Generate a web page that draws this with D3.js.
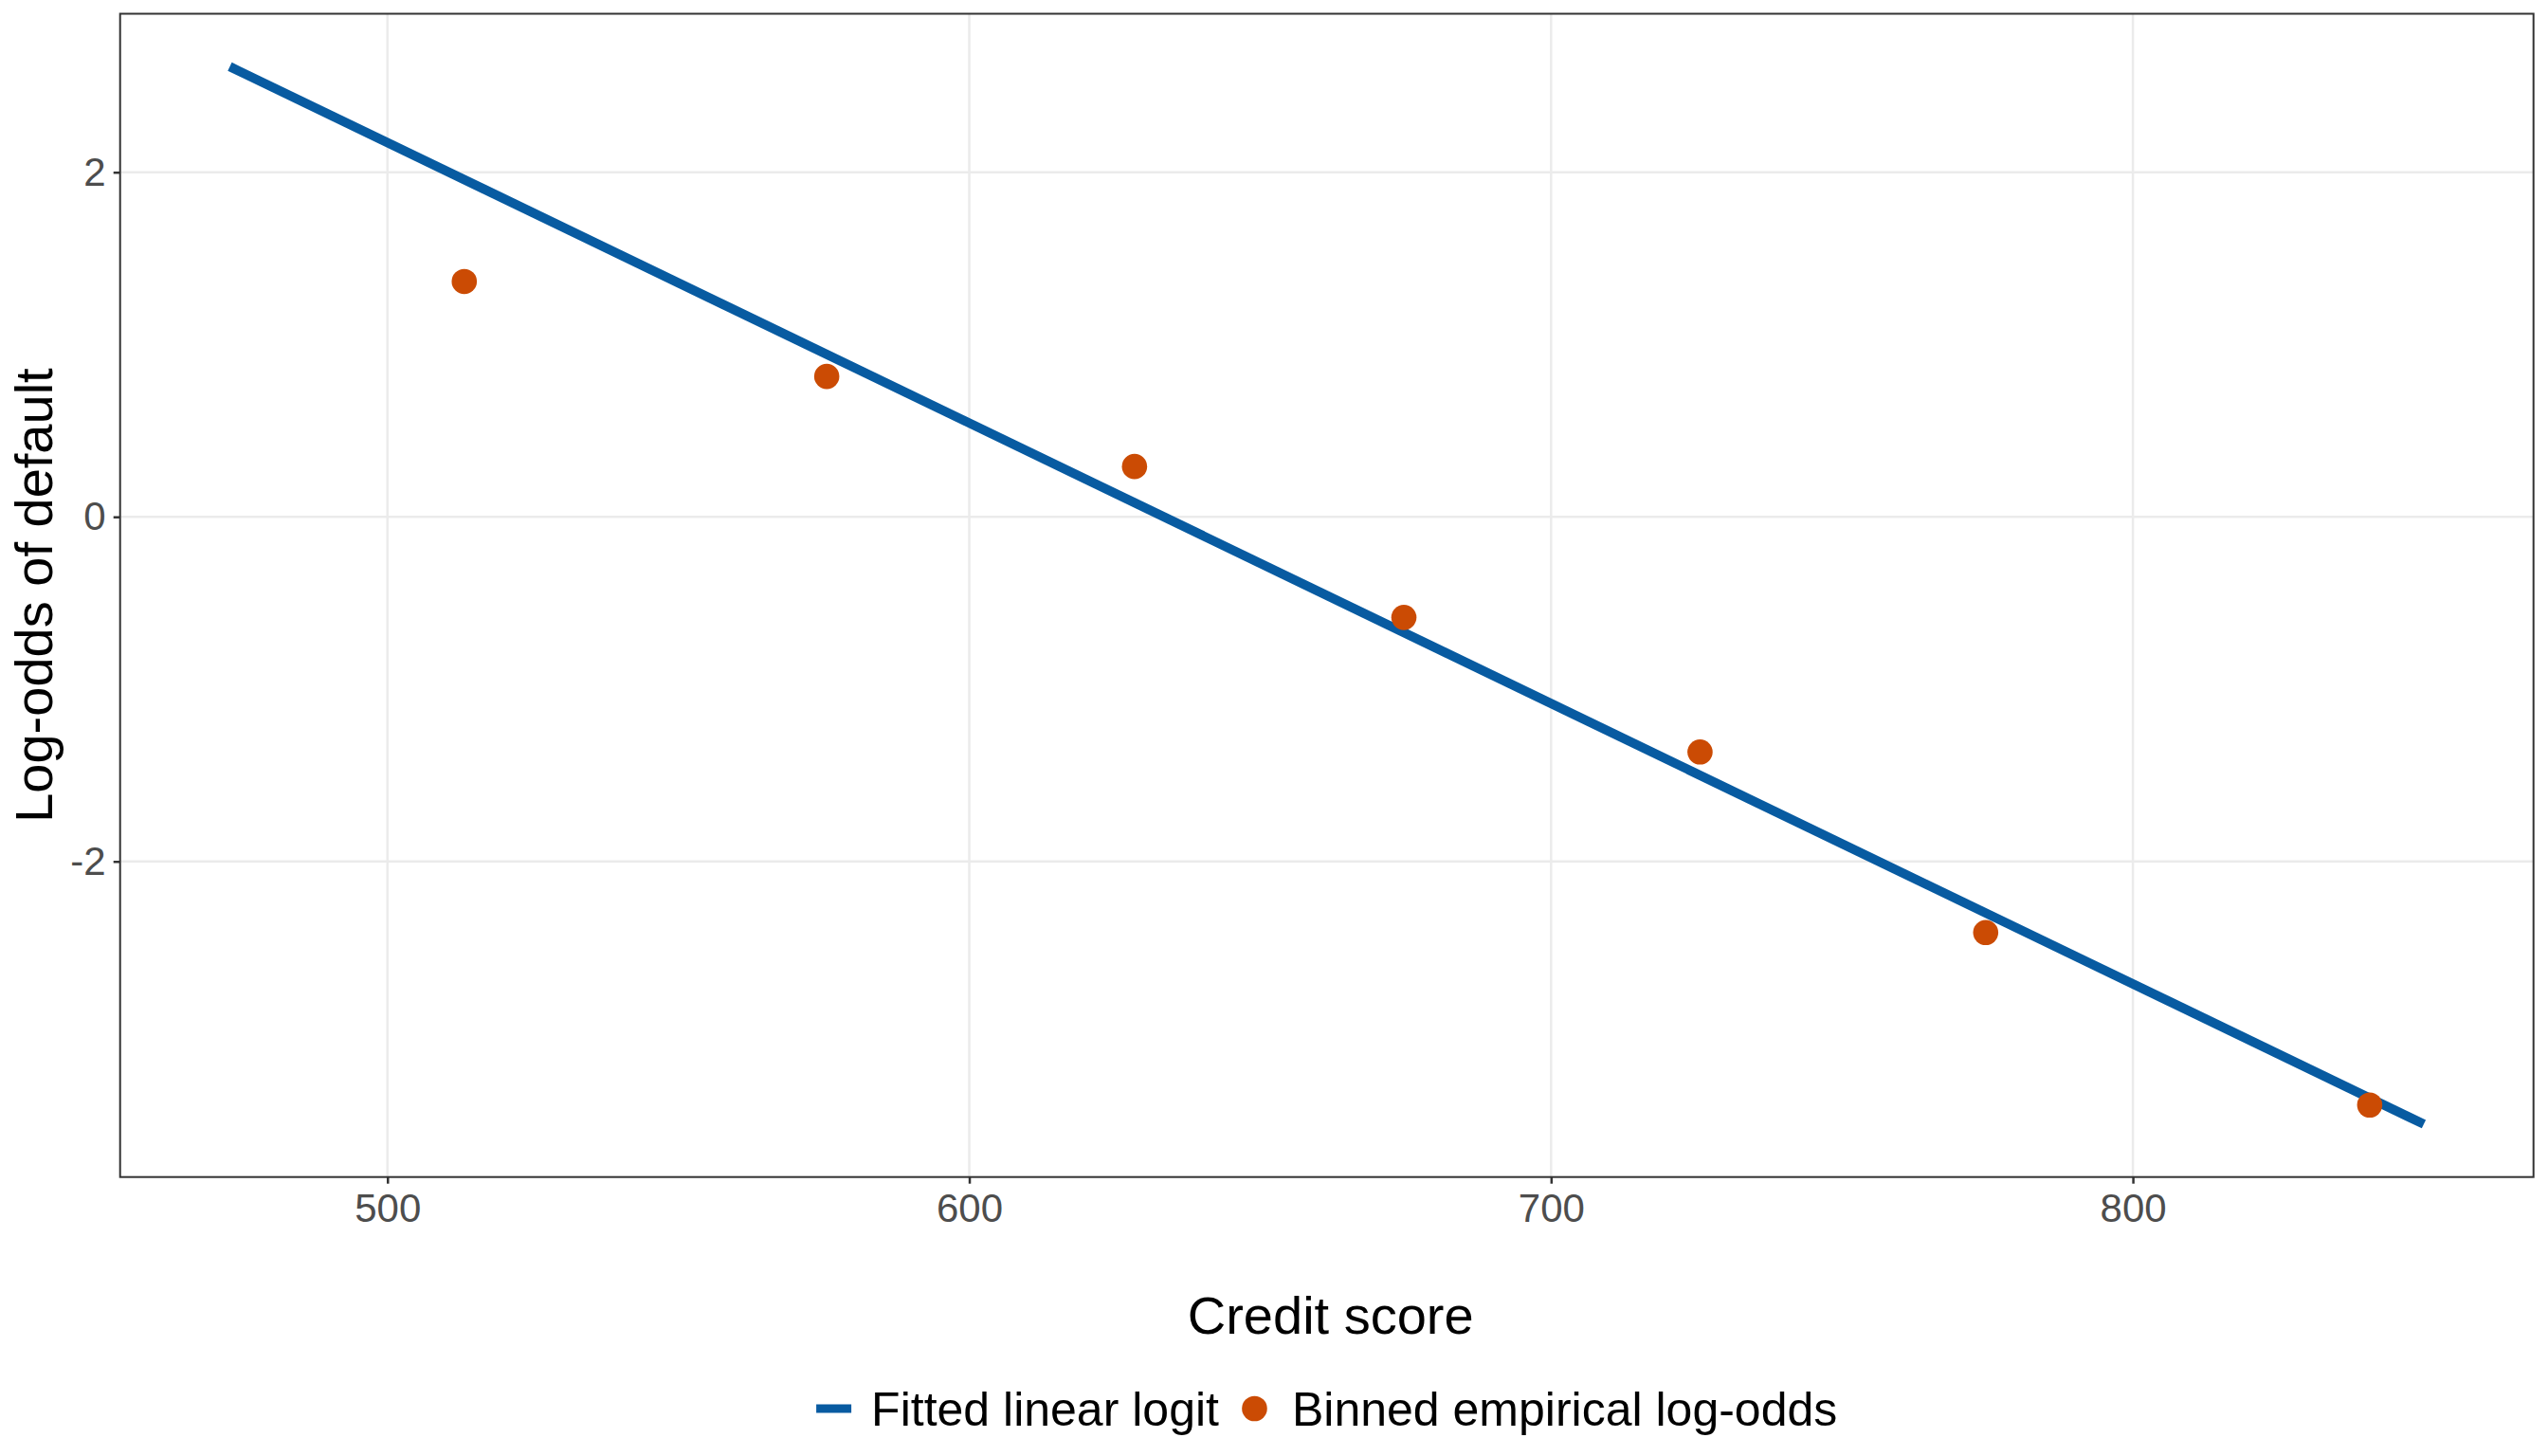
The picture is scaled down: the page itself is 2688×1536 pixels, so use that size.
<!DOCTYPE html>
<html>
<head>
<meta charset="utf-8">
<script src="https://cdn.jsdelivr.net/npm/d3@7"></script>
<style>
  html, body { margin: 0; padding: 0; background: #fff; }
  svg { display: block; font-family: 'Liberation Sans', Arial, sans-serif; }
</style>
</head>
<body>
<div id="chart"></div>
<script>
// binned empirical log-odds
const binScore = [513.2, 575.5, 628.4, 674.7, 725.6, 774.7, 840.7]
const binLogOdds = [1.366, 0.815, 0.292, -0.584, -1.365, -2.413, -3.414]

// fitted linear logit, end points of the segment
const fitScore = [472.9, 850.0]
const fitLogOdds = [2.613, -3.525]

const xTicks = [500, 600, 700, 800]
const yTicks = [-2, 0, 2]

const seriesNames = ['Fitted linear logit', 'Binned empirical log-odds']
const xTitle = 'Credit score'
const yTitle = 'Log-odds of default'

const width = 2688
const height = 1536
const marginTop = 14.5
const marginRight = width - 2672.7
const marginBottom = height - 1241.7
const marginLeft = 126.7

const lineColor = '#085ba1'
const dotColor = '#cb4b04'
const gridColor = '#ebebeb'
const axisColor = '#333333'

// ggplot-like 5% expansion of the data range
const expand = ([a, b]) => [a - (b - a) * 0.05, b + (b - a) * 0.05]

const xDomain = expand(d3.extent([...binScore, ...fitScore]))
const yDomain = expand(d3.extent([...binLogOdds, ...fitLogOdds]))

const x = d3.scaleLinear(xDomain, [marginLeft, width - marginRight])
const y = d3.scaleLinear(yDomain, [height - marginBottom, marginTop])

// attach first so text can be measured
const svg = d3.select('#chart').append('svg')
  .attr('width', width)
  .attr('height', height)
  .attr('viewBox', [0, 0, width, height])

svg.append('rect')
  .attr('width', width)
  .attr('height', height)
  .attr('fill', '#fff')

// grid
svg.append('g')
  .selectAll('line')
  .data(xTicks)
  .join('line')
  .attr('x1', d => x(d)).attr('x2', d => x(d))
  .attr('y1', y.range()[1]).attr('y2', y.range()[0])
  .attr('stroke', gridColor)
  .attr('stroke-width', 2.5)

svg.append('g')
  .selectAll('line')
  .data(yTicks)
  .join('line')
  .attr('x1', x.range()[0]).attr('x2', x.range()[1])
  .attr('y1', d => y(d)).attr('y2', d => y(d))
  .attr('stroke', gridColor)
  .attr('stroke-width', 2.5)

// fitted line
const line = d3.line()
  .x(i => x(fitScore[i]))
  .y(i => y(fitLogOdds[i]))

svg.append('path')
  .attr('fill', 'none')
  .attr('stroke', lineColor)
  .attr('stroke-width', 9.8)
  .attr('stroke-linecap', 'butt')
  .attr('d', line(d3.range(fitScore.length)))

// binned points
svg.append('g')
  .selectAll('circle')
  .data(d3.range(binScore.length))
  .join('circle')
  .attr('cx', i => x(binScore[i]))
  .attr('cy', i => y(binLogOdds[i]))
  .attr('r', 13.3)
  .attr('fill', dotColor)

// panel border
svg.append('rect')
  .attr('x', x.range()[0])
  .attr('y', y.range()[1])
  .attr('width', x.range()[1] - x.range()[0])
  .attr('height', y.range()[0] - y.range()[1])
  .attr('fill', 'none')
  .attr('stroke', axisColor)
  .attr('stroke-width', 2)

// axes
const styleAxis = g => g
  .attr('font-family', 'inherit')
  .attr('font-size', 42)
  .call(g => g.select('.domain').remove())
  .call(g => g.selectAll('.tick line').attr('stroke', axisColor).attr('stroke-width', 2.5))
  .call(g => g.selectAll('.tick text').attr('fill', '#4d4d4d'))

svg.append('g')
  .attr('transform', `translate(0, ${height - marginBottom})`)
  .call(d3.axisBottom(x).tickValues(xTicks).tickFormat(d => String(d)).tickSize(7).tickPadding(10.7))
  .call(styleAxis)

svg.append('g')
  .attr('transform', `translate(${marginLeft}, 0)`)
  .call(d3.axisLeft(y).tickValues(yTicks).tickFormat(d => String(d)).tickSize(7).tickPadding(8))
  .call(styleAxis)

const panelMidX = (x.range()[0] + x.range()[1]) / 2
const panelMidY = (y.range()[0] + y.range()[1]) / 2

svg.append('text')
  .attr('x', panelMidX + 4)
  .attr('y', 1407)
  .attr('text-anchor', 'middle')
  .attr('font-size', 56)
  .attr('fill', '#000')
  .text(xTitle)

svg.append('text')
  .attr('transform', `translate(55, ${panelMidY}) rotate(-90)`)
  .attr('text-anchor', 'middle')
  .attr('font-size', 56)
  .attr('fill', '#000')
  .text(yTitle)

// legend, centred under the panel
const keyW = 37
const keyGap = 21
const itemGap = 19
const legendY = 1486

const legend = svg.append('g')

const labels = legend.selectAll('text')
  .data(seriesNames)
  .join('text')
  .attr('font-size', 50)
  .attr('fill', '#000')
  .attr('y', legendY + 18)
  .text(d => d)

const widths = labels.nodes().map(n => n.getComputedTextLength())
const total = keyW * 2 + keyGap * 2 + itemGap + d3.sum(widths)
let cursor = panelMidX - total / 2

legend.append('line')
  .attr('x1', cursor).attr('x2', cursor + keyW)
  .attr('y1', legendY).attr('y2', legendY)
  .attr('stroke', lineColor)
  .attr('stroke-width', 9)
labels.filter((_, i) => i === 0).attr('x', cursor + keyW + keyGap)
cursor += keyW + keyGap + widths[0] + itemGap

legend.append('circle')
  .attr('cx', cursor + keyW / 2)
  .attr('cy', legendY)
  .attr('r', 13.3)
  .attr('fill', dotColor)
labels.filter((_, i) => i === 1).attr('x', cursor + keyW + keyGap)
</script>
</body>
</html>
